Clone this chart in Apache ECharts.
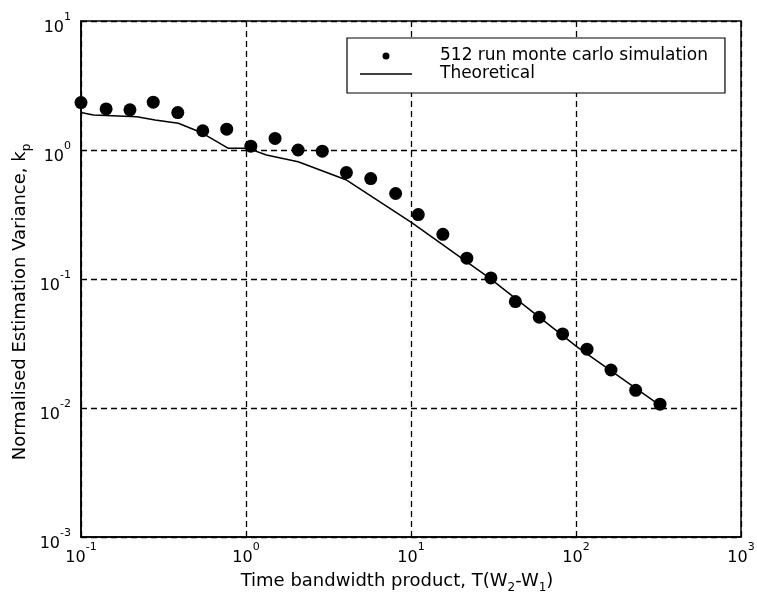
<!DOCTYPE html>
<html>
<head>
<meta charset="utf-8">
<script src="https://cdn.jsdelivr.net/npm/echarts@6/dist/echarts.min.js"></script>
<style>
html,body{margin:0;padding:0;background:#fff;}
#chart{width:757px;height:605px;}
</style>
</head>
<body>
<div id="chart"></div>
<script>
// Monte Carlo simulation points (time-bandwidth product, normalised variance)
const simX = [0.1, 0.142, 0.198, 0.274, 0.386, 0.547, 0.764, 1.07, 1.50, 2.07, 2.90, 4.06, 5.70, 8.07, 11.07, 15.6, 21.8, 30.5, 42.9, 59.9, 83.0, 116.6, 163, 230, 323];
const simY = [2.33, 2.08, 2.05, 2.35, 1.95, 1.41, 1.45, 1.07, 1.23, 1.00, 0.98, 0.668, 0.60, 0.46, 0.316, 0.222, 0.145, 0.102, 0.0668, 0.0505, 0.0375, 0.0286, 0.0197, 0.0137, 0.0107];
// Theoretical curve
const thX = [0.1, 0.119, 0.218, 0.281, 0.389, 0.540, 0.782, 1.03, 1.33, 2.07, 4.07, 10.1, 30.1, 101, 323];
const thY = [1.95, 1.87, 1.81, 1.71, 1.61, 1.36, 1.03, 1.03, 0.915, 0.811, 0.585, 0.274, 0.101, 0.0299, 0.0105];
// Tick labels (exponents of 10)
const xTickExp = [-1, 0, 1, 2, 3];
const yTickExp = [-3, -2, -1, 0, 1];
const seriesNames = ['512 run monte carlo simulation', 'Theoretical'];

const FONT = 'DejaVu Sans';
function expLabel(list) {
  return function (v) {
    const e = Math.round(Math.log10(v));
    const idx = list.indexOf(e);
    if (idx < 0) return '';
    return '{b|10}{s|' + String(list[idx]) + '}';
  };
}
const yTickRich = {
  b: { fontFamily: FONT, fontSize: 16, lineHeight: 18, padding: [8, 0, 8, 0], verticalAlign: 'top', color: '#000' },
  s: { fontFamily: FONT, fontSize: 11, lineHeight: 11, padding: [0, 0, 23, 0], verticalAlign: 'top', color: '#000' }
};
const xTickRich = {
  b: { fontFamily: FONT, fontSize: 16, lineHeight: 18, padding: [8, 0, 0, 0], verticalAlign: 'top', color: '#000' },
  s: { fontFamily: FONT, fontSize: 11, lineHeight: 11, padding: [0, 0, 15, 0], verticalAlign: 'top', color: '#000' }
};
const titleRich = {
  a: { fontFamily: FONT, fontSize: 18, lineHeight: 20, verticalAlign: 'top', color: '#000' },
  sub: { fontFamily: FONT, fontSize: 12, lineHeight: 12, padding: [10, 0, 0, 0], verticalAlign: 'top', color: '#000' }
};

const chart = echarts.init(document.getElementById('chart'), null, { renderer: 'canvas' });
const gridLine = { show: true, lineStyle: { color: '#000', width: 1.3, type: [6, 4] } };
chart.setOption({
  animation: false,
  backgroundColor: '#fff',
  grid: { left: 81, right: 16, top: 21, bottom: 68, outerBoundsMode: 'none', show: true, borderColor: '#000', borderWidth: 1.5, backgroundColor: 'transparent' },
  legend: {
    left: 347, top: 38, orient: 'vertical',
    backgroundColor: '#fff', borderColor: '#000', borderWidth: 1.2,
    padding: [9, 17, 10, 13], itemGap: 0, itemWidth: 52, itemHeight: 7,
    textStyle: { fontFamily: FONT, fontSize: 17, lineHeight: 18, color: '#000', padding: [0, 0, 0, 23] },
    data: [
      { name: seriesNames[0], icon: 'circle', itemStyle: { color: '#000', opacity: 1 } },
      { name: seriesNames[1], icon: 'path://M0 0 H40 V1 H0 Z', itemStyle: { color: '#000', opacity: 1 } }
    ]
  },
  xAxis: {
    type: 'log', logBase: 10, min: 0.1, max: 1000,
    name: '{a|Time bandwidth product, T(W}{sub|2}{a|-W}{sub|1}{a|)}',
    nameLocation: 'middle', nameGap: 35, nameMoveOverlap: false,
    nameTextStyle: { rich: titleRich, padding: [0, 28, 0, 0] },
    axisLine: { show: true, lineStyle: { color: '#000', width: 1.5 } },
    axisTick: { show: true, inside: true, length: 5, lineStyle: { color: '#000' } },
    axisLabel: { formatter: expLabel(xTickExp), rich: xTickRich, margin: 5, showMinLabel: true, showMaxLabel: true },
    splitLine: gridLine
  },
  yAxis: {
    type: 'log', logBase: 10, min: 0.001, max: 10,
    name: '{a|Normalised Estimation Variance, k}{sub|p}',
    nameLocation: 'middle', nameGap: 50, nameMoveOverlap: false,
    nameTextStyle: { rich: titleRich, padding: [0, 46, 0, 0] },
    axisLine: { show: true, lineStyle: { color: '#000', width: 1.5 } },
    axisTick: { show: true, inside: true, length: 5, lineStyle: { color: '#000' } },
    axisLabel: { formatter: expLabel(yTickExp), rich: yTickRich, margin: 10, showMinLabel: true, showMaxLabel: true },
    splitLine: gridLine
  },
  series: [
    {
      name: seriesNames[0], type: 'scatter',
      data: simX.map((x, i) => [x, simY[i]]),
      symbol: 'circle', symbolSize: 13,
      itemStyle: { color: '#000', opacity: 1 }, z: 3
    },
    {
      name: seriesNames[1], type: 'line',
      data: thX.map((x, i) => [x, thY[i]]),
      symbol: 'none', showSymbol: false,
      lineStyle: { color: '#000', width: 1.5 },
      itemStyle: { color: '#000' }, z: 2
    }
  ]
});
</script>
</body>
</html>
